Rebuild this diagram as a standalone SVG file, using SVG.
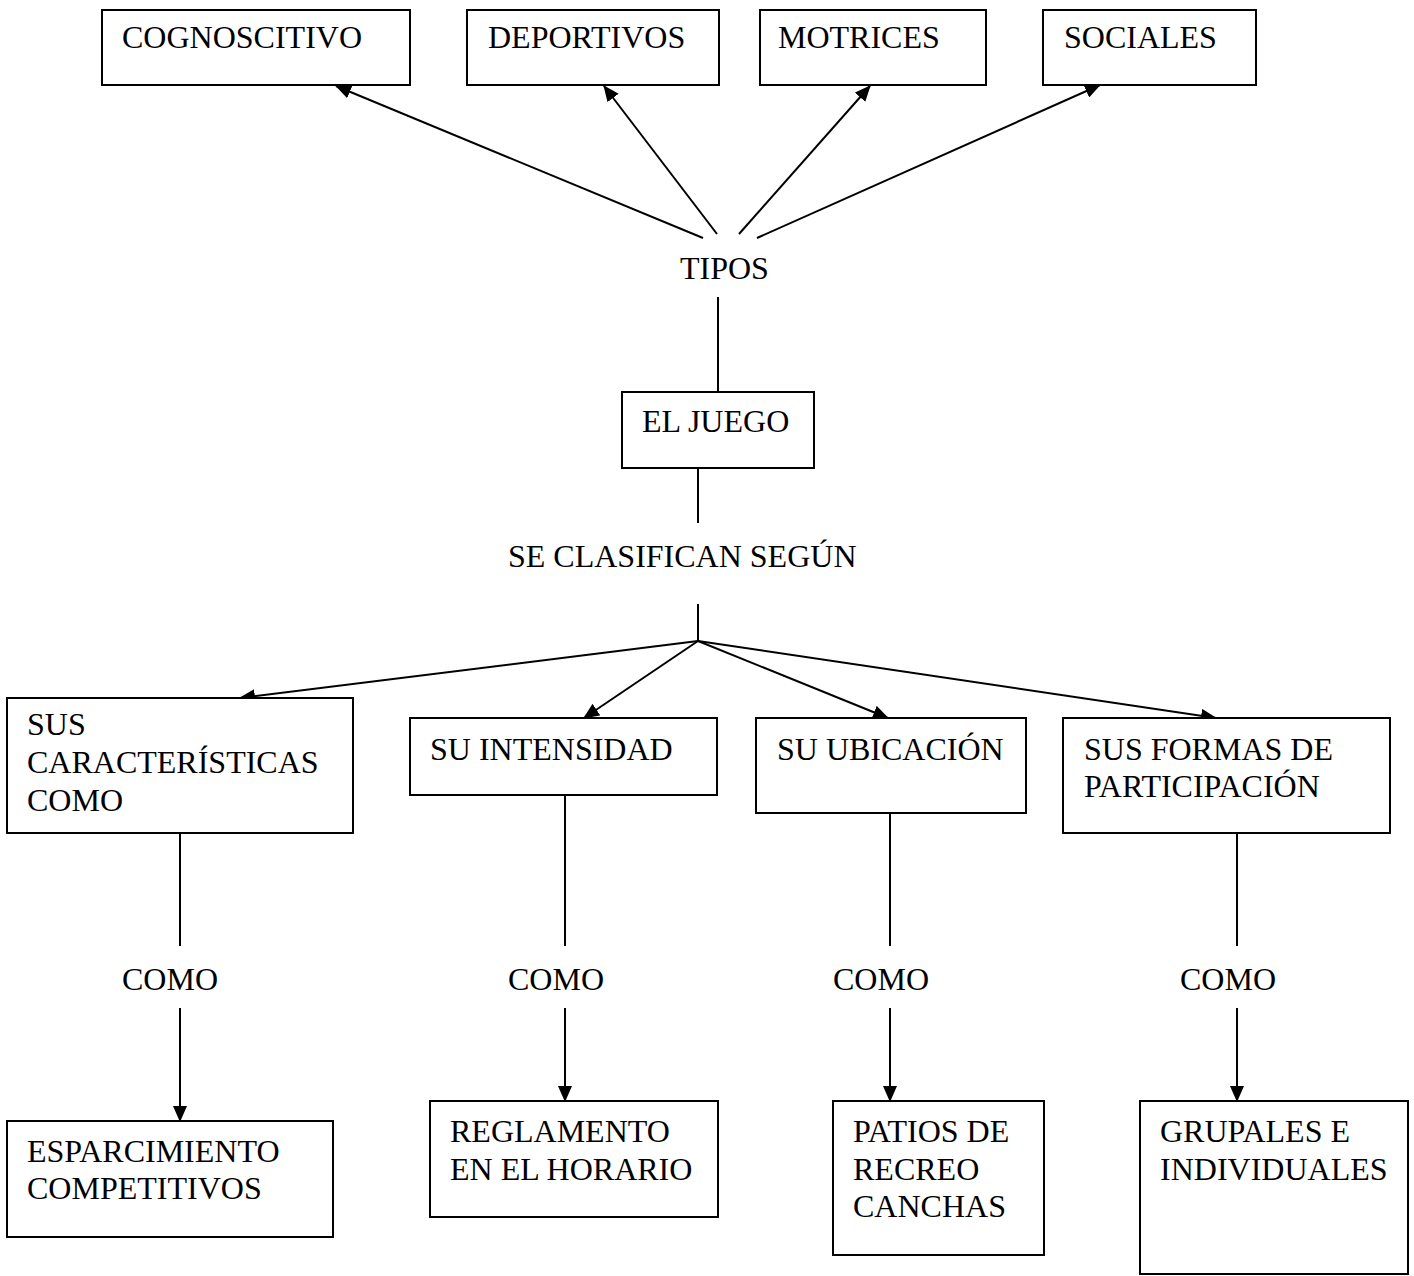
<svg xmlns="http://www.w3.org/2000/svg" width="1414" height="1276" viewBox="0 0 1414 1276">
  <style>
    .box { fill: #ffffff; stroke: #000000; stroke-width: 2; }
    .t { font-family: "Liberation Serif", "Times New Roman", serif; font-size: 32px; fill: #000000; }
    .ln { stroke: #000000; stroke-width: 2; fill: none; }
    .ar { stroke: #000000; stroke-width: 2; fill: none; marker-end: url(#ah); }
  </style>
  <defs>
    <marker id="ah" markerUnits="userSpaceOnUse" markerWidth="16" markerHeight="14" refX="15" refY="7" orient="auto">
      <path d="M0,0 L16,7 L0,14 z" fill="#000000"/>
    </marker>
  </defs>
  <rect width="1414" height="1276" fill="#ffffff"/>

  <g id="connectors">
    <line class="ar" x1="703" y1="238" x2="336" y2="86"/>
    <line class="ar" x1="717" y1="234" x2="604" y2="86"/>
    <line class="ar" x1="739" y1="234" x2="870" y2="86"/>
    <line class="ar" x1="757" y1="238" x2="1100" y2="85"/>
    <line class="ln" x1="718" y1="297" x2="718" y2="392"/>
    <line class="ln" x1="698" y1="468" x2="698" y2="523"/>
    <line class="ln" x1="698" y1="604" x2="698" y2="641"/>
    <line class="ar" x1="698" y1="641" x2="240" y2="698"/>
    <line class="ar" x1="698" y1="641" x2="584" y2="718"/>
    <line class="ar" x1="698" y1="641" x2="888" y2="718"/>
    <line class="ar" x1="698" y1="641" x2="1216" y2="718"/>
    <line class="ln" x1="180" y1="833" x2="180" y2="946"/>
    <line class="ar" x1="180" y1="1008" x2="180" y2="1121"/>
    <line class="ln" x1="565" y1="795" x2="565" y2="946"/>
    <line class="ar" x1="565" y1="1008" x2="565" y2="1101"/>
    <line class="ln" x1="890" y1="813" x2="890" y2="946"/>
    <line class="ar" x1="890" y1="1008" x2="890" y2="1101"/>
    <line class="ln" x1="1237" y1="833" x2="1237" y2="946"/>
    <line class="ar" x1="1237" y1="1008" x2="1237" y2="1101"/>
  </g>

  <g id="cognoscitivo">
    <rect class="box" x="102" y="10" width="308" height="75"/>
    <text class="t" x="122" y="48">COGNOSCITIVO</text>
  </g>
  <g id="deportivos">
    <rect class="box" x="467" y="10" width="252" height="75"/>
    <text class="t" x="488" y="48">DEPORTIVOS</text>
  </g>
  <g id="motrices">
    <rect class="box" x="760" y="10" width="226" height="75"/>
    <text class="t" x="778" y="48">MOTRICES</text>
  </g>
  <g id="sociales">
    <rect class="box" x="1043" y="10" width="213" height="75"/>
    <text class="t" x="1064" y="48">SOCIALES</text>
  </g>

  <g id="tipos">
    <text class="t" x="680" y="279">TIPOS</text>
  </g>
  <g id="el-juego">
    <rect class="box" x="622" y="392" width="192" height="76"/>
    <text class="t" x="642" y="432">EL JUEGO</text>
  </g>
  <g id="se-clasifican">
    <text class="t" x="508" y="567">SE CLASIFICAN SEGÚN</text>
  </g>

  <g id="sus-caracteristicas">
    <rect class="box" x="7" y="698" width="346" height="135"/>
    <text class="t" x="27" y="735">SUS</text>
    <text class="t" x="27" y="773">CARACTERÍSTICAS</text>
    <text class="t" x="27" y="811">COMO</text>
  </g>
  <g id="su-intensidad">
    <rect class="box" x="410" y="718" width="307" height="77"/>
    <text class="t" x="430" y="760">SU INTENSIDAD</text>
  </g>
  <g id="su-ubicacion">
    <rect class="box" x="756" y="718" width="270" height="95"/>
    <text class="t" x="777" y="760">SU UBICACIÓN</text>
  </g>
  <g id="sus-formas">
    <rect class="box" x="1063" y="718" width="327" height="115"/>
    <text class="t" x="1084" y="760">SUS FORMAS DE</text>
    <text class="t" x="1084" y="797">PARTICIPACIÓN</text>
  </g>

  <g id="como-1"><text class="t" x="122" y="990">COMO</text></g>
  <g id="como-2"><text class="t" x="508" y="990">COMO</text></g>
  <g id="como-3"><text class="t" x="833" y="990">COMO</text></g>
  <g id="como-4"><text class="t" x="1180" y="990">COMO</text></g>

  <g id="esparcimiento">
    <rect class="box" x="7" y="1121" width="326" height="116"/>
    <text class="t" x="27" y="1162">ESPARCIMIENTO</text>
    <text class="t" x="27" y="1199">COMPETITIVOS</text>
  </g>
  <g id="reglamento">
    <rect class="box" x="430" y="1101" width="288" height="116"/>
    <text class="t" x="450" y="1142">REGLAMENTO</text>
    <text class="t" x="450" y="1180">EN EL HORARIO</text>
  </g>
  <g id="patios">
    <rect class="box" x="833" y="1101" width="211" height="154"/>
    <text class="t" x="853" y="1142">PATIOS DE</text>
    <text class="t" x="853" y="1180">RECREO</text>
    <text class="t" x="853" y="1217">CANCHAS</text>
  </g>
  <g id="grupales">
    <rect class="box" x="1140" y="1101" width="268" height="173"/>
    <text class="t" x="1160" y="1142">GRUPALES E</text>
    <text class="t" x="1160" y="1180">INDIVIDUALES</text>
  </g>
</svg>
